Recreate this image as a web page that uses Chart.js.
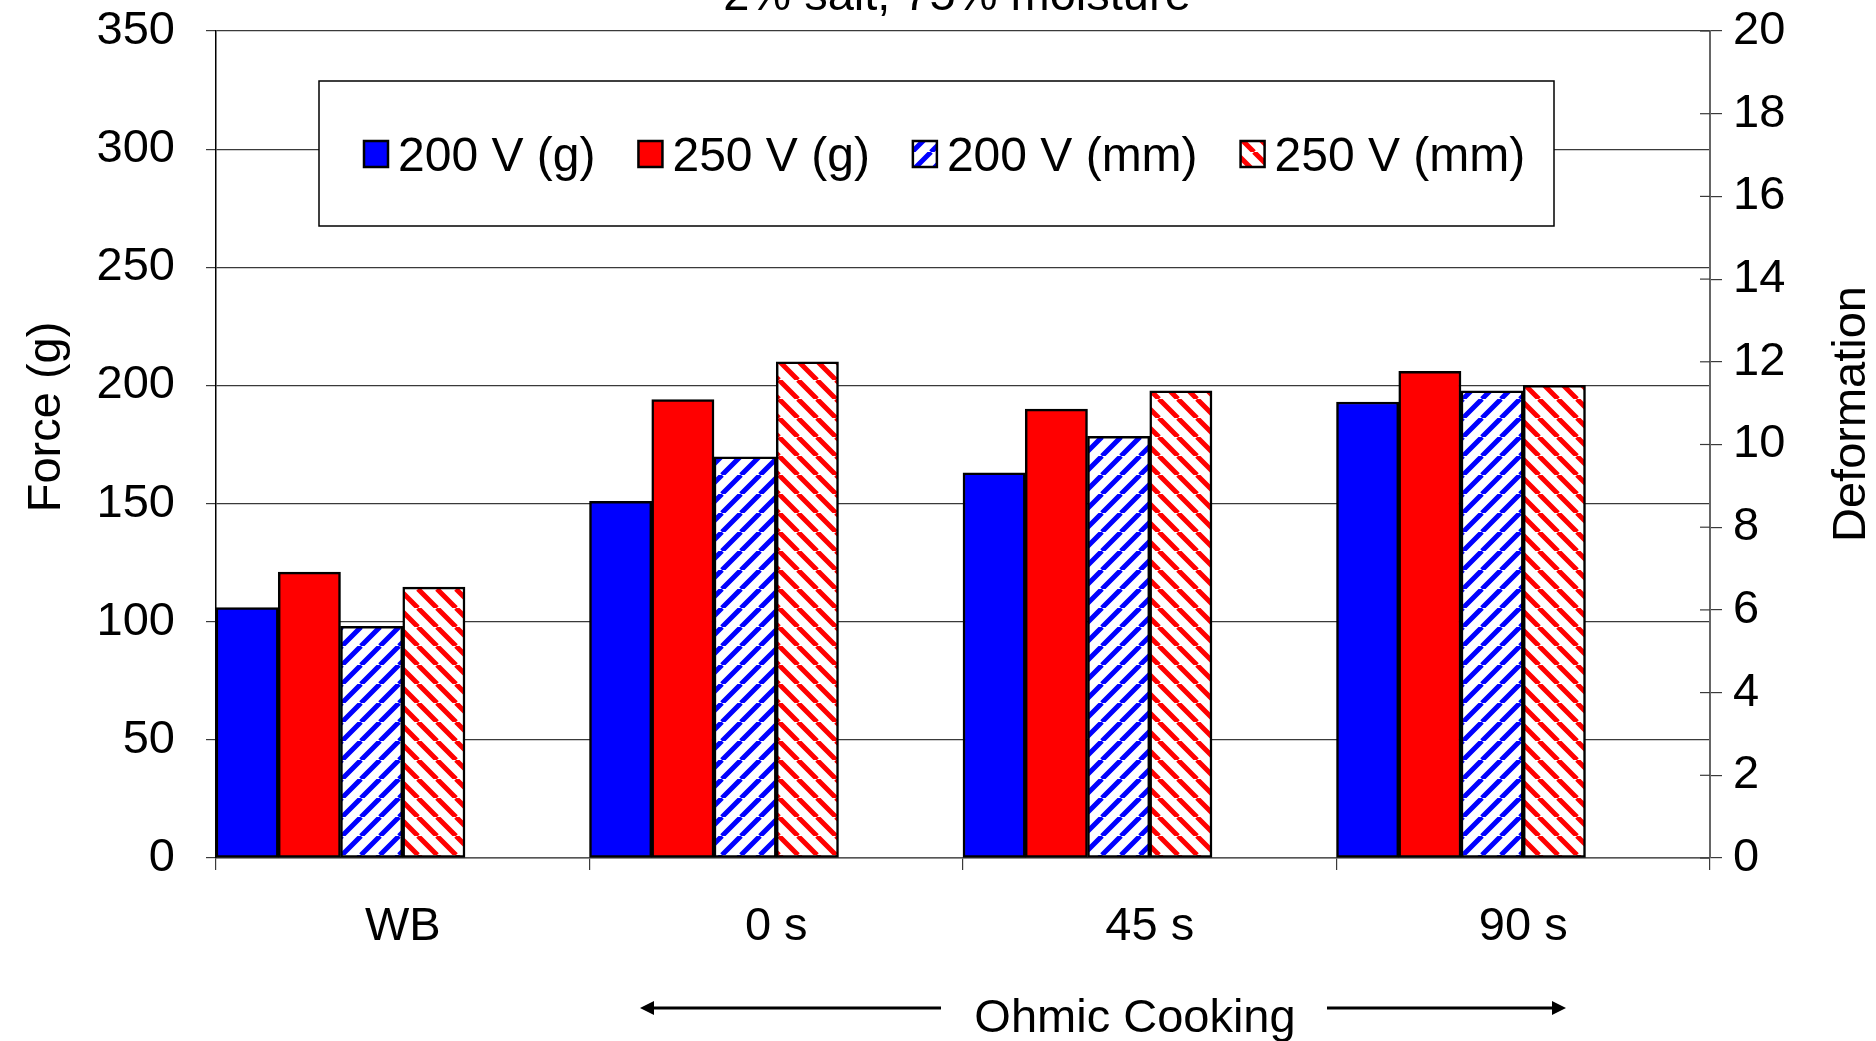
<!DOCTYPE html>
<html>
<head>
<meta charset="utf-8">
<script src="https://cdn.jsdelivr.net/npm/chart.js@4.4.0/dist/chart.umd.min.js"></script>
<style>
  html, body { margin: 0; padding: 0; background: #fff; }
  #wrap { width: 1876px; height: 1041px; position: relative; }
</style>
</head>
<body>
<div id="wrap"><canvas id="chart"></canvas></div>
<script>
const categories = ['WB', '0 s', '45 s', '90 s'];
const seriesLabels = ['200 V (g)', '250 V (g)', '200 V (mm)', '250 V (mm)'];
const force200 = [106, 151, 163, 193];
const force250 = [121, 194, 190, 206];
const deform200 = [5.6, 9.7, 10.2, 11.3];
const deform250 = [6.55, 12.0, 11.3, 11.43];
const forceAxis = { min: 0, max: 350, step: 50 };
const deformAxis = { min: 0, max: 20, step: 2 };

const FONT = '"Liberation Sans", Arial, sans-serif';
const GRID = '#3a3a3a';
const canvas = document.getElementById('chart');
const mainCtx = canvas.getContext('2d');

// diagonal hatch fill, dir 1 = "/" and -1 = "\"
function hatch(color, dir) {
    const size = 19;
    const c = document.createElement('canvas');
    c.width = size;
    c.height = size;
    const g = c.getContext('2d');
    g.fillStyle = '#fff';
    g.fillRect(0, 0, size, size);
    g.strokeStyle = color;
    g.lineWidth = 5;
    g.beginPath();
    [-size, 0, size].forEach(o => {
        if (dir > 0) {
            g.moveTo(o, size);
            g.lineTo(o + size, 0);
        } else {
            g.moveTo(o, 0);
            g.lineTo(o + size, size);
        }
    });
    g.stroke();
    return mainCtx.createPattern(c, 'repeat');
}

function arrow(ctx, x1, x2, y) {
    const dir = x2 > x1 ? 1 : -1;
    ctx.beginPath();
    ctx.moveTo(x1, y);
    ctx.lineTo(x2 - dir * 10, y);
    ctx.stroke();
    ctx.beginPath();
    ctx.moveTo(x2, y);
    ctx.lineTo(x2 - dir * 14, y - 7);
    ctx.lineTo(x2 - dir * 14, y + 7);
    ctx.closePath();
    ctx.fill();
}

const decorations = {
    id: 'decorations',
    afterDraw(chart) {
        const ctx = chart.ctx;
        const area = chart.chartArea;
        const y1 = chart.scales.y1;
        ctx.save();

        // right axis ticks also cross inward
        ctx.strokeStyle = GRID;
        ctx.lineWidth = 1.2;
        y1.ticks.forEach(t => {
            const py = y1.getPixelForValue(t.value);
            ctx.beginPath();
            ctx.moveTo(area.right - 10, py);
            ctx.lineTo(area.right, py);
            ctx.stroke();
        });

        ctx.fillStyle = '#000';
        ctx.font = '47px ' + FONT;
        ctx.textAlign = 'center';
        ctx.textBaseline = 'alphabetic';
        ctx.fillText('2% salt, 75% moisture', 957, 10);

        // axis titles
        ctx.textBaseline = 'middle';
        ctx.save();
        ctx.translate(47, 417);
        ctx.rotate(-Math.PI / 2);
        ctx.fillText('Force (g)', 0, 0);
        ctx.restore();
        ctx.save();
        ctx.translate(1852, 414);
        ctx.rotate(-Math.PI / 2);
        ctx.fillText('Deformation', 0, 0);
        ctx.restore();

        // Ohmic Cooking with arrows
        ctx.textBaseline = 'alphabetic';
        ctx.fillText('Ohmic Cooking', 1135, 1032);
        ctx.strokeStyle = '#000';
        ctx.lineWidth = 3;
        arrow(ctx, 941, 640, 1008);
        arrow(ctx, 1327, 1566, 1008);

        // legend box inside the plot
        ctx.fillStyle = '#fff';
        ctx.fillRect(319, 81, 1235, 145);
        ctx.strokeStyle = '#000';
        ctx.lineWidth = 1.5;
        ctx.strokeRect(319, 81, 1235, 145);
        ctx.font = '48px ' + FONT;
        ctx.textAlign = 'left';
        ctx.textBaseline = 'middle';
        let x = 364;
        chart.data.datasets.filter(d => d.label).forEach(d => {
            ctx.fillStyle = d.backgroundColor;
            ctx.fillRect(x, 141, 24, 26);
            ctx.lineWidth = 2.5;
            ctx.strokeStyle = '#000';
            ctx.strokeRect(x, 141, 24, 26);
            ctx.fillStyle = '#000';
            ctx.fillText(d.label, x + 34, 158);
            x += 34 + ctx.measureText(d.label).width + 43;
        });
        ctx.restore();
    }
};

const barStyle = { borderColor: '#000', borderWidth: 2.5, borderSkipped: false };

// fixed side widths, no extra room for the end labels
function fixWidth(w) {
    return scale => {
        scale.width = w;
        scale.paddingTop = 0;
        scale.paddingBottom = 0;
    };
}

new Chart(mainCtx, {
    type: 'bar',
    data: {
        labels: categories,
        datasets: [
            { label: seriesLabels[0], data: force200, yAxisID: 'y', backgroundColor: '#0000ff', ...barStyle },
            { label: seriesLabels[1], data: force250, yAxisID: 'y', backgroundColor: '#ff0000', ...barStyle },
            { label: seriesLabels[2], data: deform200, yAxisID: 'y1', backgroundColor: hatch('#0000ff', 1), ...barStyle },
            { label: seriesLabels[3], data: deform250, yAxisID: 'y1', backgroundColor: hatch('#ff0000', -1), ...barStyle },
            // empty slots keep the groups left-aligned in each category
            { label: '', data: [null, null, null, null], yAxisID: 'y' },
            { label: '', data: [null, null, null, null], yAxisID: 'y' }
        ]
    },
    options: {
        responsive: true,
        maintainAspectRatio: false,
        animation: false,
        categoryPercentage: 1,
        barPercentage: 1,
        layout: { padding: { top: 31, left: 0, right: 0, bottom: 0 } },
        plugins: {
            legend: { display: false },
            tooltip: { enabled: false }
        },
        scales: {
            x: {
                grid: { drawOnChartArea: false, offset: true, tickLength: 12, color: GRID, lineWidth: 1.2 },
                border: { color: '#555', width: 1.5 },
                ticks: { color: '#000', padding: 29, font: { size: 47, family: FONT } },
                afterFit(scale) {
                    scale.height = 183;
                    scale.paddingLeft = 0;
                    scale.paddingRight = 0;
                }
            },
            y: {
                position: 'left',
                min: forceAxis.min,
                max: forceAxis.max,
                ticks: { stepSize: forceAxis.step, color: '#000', padding: 31, font: { size: 47, family: FONT } },
                grid: { color: GRID, lineWidth: 1.2, tickLength: 10 },
                border: { color: '#000', width: 1.5 },
                afterFit: fixWidth(216)
            },
            y1: {
                position: 'right',
                min: deformAxis.min,
                max: deformAxis.max,
                ticks: { stepSize: deformAxis.step, color: '#000', padding: 11, font: { size: 47, family: FONT } },
                grid: { drawOnChartArea: false, color: GRID, lineWidth: 1.2, tickLength: 12 },
                border: { color: '#666', width: 2 },
                afterFit: fixWidth(166)
            }
        }
    },
    plugins: [decorations]
});
</script>
</body>
</html>
